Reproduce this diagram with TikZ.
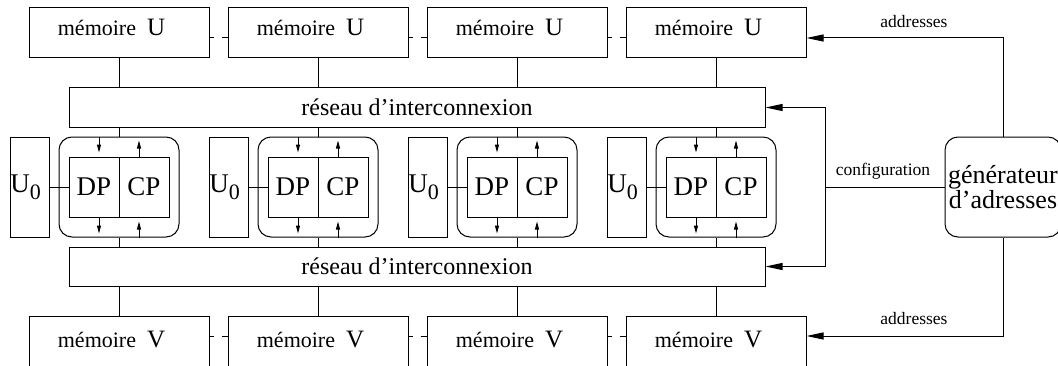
\documentclass[tikz,border=0pt]{standalone}
\usepackage{fontspec}
\setmainfont{Liberation Serif}
\usetikzlibrary{arrows.meta}

\newcommand{\memname}[1]{mémoire\hspace{0.5em}{\fontsize{25}{26}\selectfont #1}\hspace*{15pt}}

\begin{document}
\begin{tikzpicture}[x=1pt,y=1pt,line width=1pt,
	membox/.style={draw,minimum width=180pt,minimum height=50pt,inner sep=0pt,font=\fontsize{22}{24}\selectfont},
	netbox/.style={draw,minimum width=696pt,minimum height=39pt,inner sep=0pt,font=\fontsize{24}{26}\selectfont},
	pebox/.style={draw,rounded corners=13pt,minimum width=120pt,minimum height=100pt},
	ubox/.style={draw,minimum width=39pt,minimum height=100pt,inner sep=0pt,font=\fontsize{27}{29}\selectfont},
	halfbox/.style={draw,minimum width=50pt,minimum height=60pt,inner sep=0pt,font=\fontsize{27}{29}\selectfont},
	genbox/.style={draw,rounded corners=13pt,minimum width=116pt,minimum height=100pt,inner sep=0pt,align=center,font=\fontsize{26}{22}\selectfont},
	lbl/.style={font=\fontsize{17.5}{19}\selectfont,inner sep=0pt},
	pearrow/.style={-{Triangle[length=8pt,width=4pt]},shorten >=4pt},
	busarrow/.style={-{Triangle[length=17pt,width=7pt]}},
	memlink/.style={dash pattern=on 8pt off 8pt,dash phase=4pt}]
			%%%%% START %%%%%
			
			\useasboundingbox (0,0) rectangle (1058,365);
			
			\node[netbox] (netU) at (417,257.5) {réseau d’interconnexion};
			\node[netbox] (netV) at (417,98.5) {réseau d’interconnexion};
			
			\foreach \i in {0,...,3}{
				\node[membox,text height=14pt,text depth=8pt] (mu\i) at (119+199*\i,332) {\memname{U}};
				\node[membox,text height=15pt,text depth=3pt] (mv\i) at (119+199*\i,24) {\memname{V}};
				
				\node[pebox] (pe\i) at (119+199*\i,178) {};
				\node[halfbox] (dp\i) at (94+199*\i,178) {DP};
				\node[halfbox] (cp\i) at (144+199*\i,178) {CP};
				\node[ubox] (u\i) at (29.5+199*\i,178) {U\raisebox{-7pt}{\fontsize{22}{22}\selectfont 0}\hspace*{8pt}};
				\draw (u\i.east) -- (dp\i.west);
				
				\draw (mu\i.south) -- (mu\i.south |- netU.north);
				\draw (pe\i.north |- netU.south) -- (pe\i.north);
				\draw (pe\i.south) -- (pe\i.south |- netV.north);
				\draw (mv\i.north |- netV.south) -- (mv\i.north);
				
				\coordinate (dt\i) at ([xshift=5pt]dp\i.north);
				\coordinate (db\i) at ([xshift=5pt]dp\i.south);
				\coordinate (ct\i) at ([xshift=-5pt]cp\i.north);
				\coordinate (cb\i) at ([xshift=-5pt]cp\i.south);
				\draw[pearrow] (dt\i |- pe\i.north) -- (dt\i);
				\draw[pearrow] (ct\i) -- (ct\i |- pe\i.north);
				\draw[pearrow] (db\i) -- (db\i |- pe\i.south);
				\draw[pearrow] (cb\i |- pe\i.south) -- (cb\i);
			}
			
			\foreach \i/\j in {0/1,1/2,2/3}{
				\draw[memlink] ([yshift=-5pt]mu\i.east) -- ([yshift=-5pt]mu\j.west);
				\draw[memlink] ([yshift=5pt]mv\i.east) -- ([yshift=5pt]mv\j.west);
			}
			
			\node[genbox] (gen) at (1003,178) {générateur\\d’adresses};
			\coordinate (cfg) at (825,178);
			
			\draw (gen.west) -- (cfg);
			\draw[busarrow] (cfg) |- (netU.east);
			\draw[busarrow] (cfg) |- (netV.east);
			\draw[busarrow] (gen.north) |- ([yshift=-5pt]mu3.east);
			\draw[busarrow] (gen.south) |- ([yshift=5pt]mv3.east);
			
			\node[lbl] (adrU) at (914,343) {addresses};
			\node[lbl] (adrV) at (914,46) {addresses};
			\node[lbl] (conf) at (883,194) {configuration};
			
			%%%%% END %%%%%
\end{tikzpicture}
\end{document}
